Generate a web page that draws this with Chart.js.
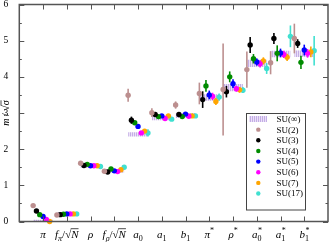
<!DOCTYPE html>
<html><head><meta charset="utf-8">
<script src="https://cdn.jsdelivr.net/npm/chart.js@4.4.1/dist/chart.umd.min.js"></script>
<style>html,body{margin:0;padding:0;background:#fff;}</style>
</head><body>
<canvas id="c" width="332" height="242"></canvas>
<script>
const categories = ['π','fπ/√N','ρ','fρ/√N','a0','a1','b1','π*','ρ*','a0*','a1*','b1*'];
const seriesLabels = ['SU(2)','SU(3)','SU(4)','SU(5)','SU(6)','SU(7)','SU(17)'];
const bandLabel = 'SU(∞)';
const su2  = [0.44,0.18,1.61,1.39,3.49,3.01,3.22,3.54,3.65,4.20,4.39,5.06];
const su2Err  = [0.02,0.01,0.02,0.02,0.18,0.12,0.10,0.30,1.27,0.50,0.32,0.41];
const su3  = [0.29,0.19,1.55,1.37,2.80,2.96,2.96,3.37,3.59,4.88,5.06,4.92];
const su3Err  = [0.01,0.01,0.02,0.02,0.10,0.05,0.05,0.23,0.16,0.22,0.15,0.12];
const su4  = [0.19,0.20,1.58,1.45,2.73,2.90,2.90,3.75,4.00,4.50,4.65,4.40];
const su4Err  = [0.01,0.01,0.02,0.02,0.05,0.04,0.04,0.16,0.15,0.13,0.22,0.18];
const su5  = [0.14,0.21,1.54,1.40,2.63,2.92,2.97,3.50,3.81,4.41,4.66,4.74];
const su5Err  = [0.01,0.01,0.02,0.02,0.06,0.04,0.05,0.12,0.12,0.10,0.12,0.15];
const su6  = [0.06,0.21,1.54,1.38,2.45,2.85,2.91,3.46,3.67,4.36,4.62,4.65];
const su6Err  = [0.01,0.01,0.02,0.02,0.04,0.04,0.04,0.10,0.08,0.10,0.10,0.12];
const su7  = [0.00,0.21,1.54,1.43,2.50,2.92,2.92,3.32,3.64,4.44,4.54,4.69];
const su7Err  = [0.01,0.01,0.02,0.02,0.05,0.04,0.04,0.10,0.08,0.10,0.10,0.15];
const su17 = [null,0.21,1.52,1.50,2.45,2.83,2.92,3.44,3.63,4.23,5.12,4.72];
const su17Err = [null,0.01,0.02,0.02,0.10,0.05,0.05,0.10,0.08,0.15,0.30,0.41];
const suInf    = [0.00,0.21,1.53,1.40,2.41,2.87,2.93,3.43,3.70,4.37,4.63,4.64];
const suInfErr = [0.04,0.04,0.04,0.04,0.05,0.06,0.06,0.08,0.09,0.09,0.08,0.08];
const yTicks = [0,1,2,3,4,5,6];

const seriesValues = [su2,su3,su4,su5,su6,su7,su17];
const seriesErrors = [su2Err,su3Err,su4Err,su5Err,su6Err,su7Err,su17Err];
const seriesColors = ['#bc8f8f','#000000','#008b00','#0000ff','#ff00ff','#ffa500','#40e0d0'];

const FAM = "'Liberation Serif','DejaVu Serif',serif";
function partsFor(cat){
  const m = {
    'π':[{t:'π',it:1}],
    'fπ/√N':[{t:'f',it:1},{t:'π',it:1,pos:'sub'},{t:'/'},{t:'√'},{t:'N',it:1,ov:1}],
    'ρ':[{t:'ρ',it:1}],
    'fρ/√N':[{t:'f',it:1},{t:'ρ',it:1,pos:'sub'},{t:'/'},{t:'√'},{t:'N',it:1,ov:1}],
    'a0':[{t:'a',it:1},{t:'0',pos:'sub'}],
    'a1':[{t:'a',it:1},{t:'1',pos:'sub'}],
    'b1':[{t:'b',it:1},{t:'1',pos:'sub'}],
    'π*':[{t:'π',it:1},{t:'*',pos:'sup'}],
    'ρ*':[{t:'ρ',it:1},{t:'*',pos:'sup'}],
    'a0*':[{t:'a',it:1},{t:'0',pos:'sub',stack:'*'}],
    'a1*':[{t:'a',it:1},{t:'1',pos:'sub',stack:'*'}],
    'b1*':[{t:'b',it:1},{t:'1',pos:'sub',stack:'*'}]
  };
  return m[cat];
}
function segFont(s,size){ return (s.it?'italic ':'') + (s.pos? Math.round(size*0.7) : size) + 'px ' + FAM; }
function drawParts(ctx, parts, cx, base, size){
  const widths = parts.map(s=>{ ctx.font=segFont(s,size); let w=ctx.measureText(s.t).width; if(s.stack) w=Math.max(w,ctx.measureText(s.stack).width); return w; });
  const total = widths.reduce((a,b)=>a+b,0);
  let x = cx - total/2;
  ctx.textAlign='left'; ctx.textBaseline='alphabetic';
  parts.forEach((s,i)=>{
    ctx.font = segFont(s,size);
    const y = base + (s.pos==='sub' ? size*0.3 : s.pos==='sup' ? -size*0.42 : 0);
    ctx.fillText(s.t, x, y);
    if(s.stack) ctx.fillText(s.stack, x+0.5, base - size*0.45);
    if(s.ov){ ctx.beginPath(); ctx.lineWidth=0.7; ctx.moveTo(x-0.5, base-size*0.8); ctx.lineTo(x+widths[i], base-size*0.8); ctx.stroke(); }
    x += widths[i];
  });
}

const pc = document.createElement('canvas'); pc.width=2; pc.height=2;
const pctx = pc.getContext('2d');
pctx.fillStyle='#ebe2f7'; pctx.fillRect(0,0,2,2);
pctx.fillStyle='#c4ade6'; pctx.fillRect(0,0,1,2);
const hatch = pctx.createPattern(pc,'repeat');

const offsetStep = 0.139;
const datasets = [];
datasets.push({
  type:'bar', label: bandLabel, order: 1,
  data: suInf.map((v,i)=>({x:i+1, y:[v-suInfErr[i], v+suInfErr[i]]})),
  backgroundColor: hatch, borderWidth:0, barThickness:19
});
seriesValues.forEach((vals,k)=>{
  datasets.push({
    type:'scatter', label: seriesLabels[k], order: 0,
    data: vals.map((v,i)=>({x: i+1 + (k-3)*offsetStep, y: v})),
    errors: seriesErrors[k],
    backgroundColor: seriesColors[k], borderColor: seriesColors[k],
    pointRadius: 2.7, pointBorderWidth: 0, clip: false
  });
});

const deco = {
  id:'deco',
  beforeDatasetDraw(chart, args){
    const ds = chart.data.datasets[args.index];
    if(!ds.errors) return;
    const xs = chart.scales.x, ys = chart.scales.y, ctx = chart.ctx;
    ctx.save(); ctx.strokeStyle = ds.borderColor; ctx.lineWidth = 1.6;
    ds.data.forEach((p,i)=>{
      const e = ds.errors[i];
      if(p.y==null || e==null) return;
      const px = xs.getPixelForValue(p.x);
      ctx.beginPath();
      ctx.moveTo(px, ys.getPixelForValue(p.y-e));
      ctx.lineTo(px, ys.getPixelForValue(p.y+e));
      ctx.stroke();
    });
    ctx.restore();
  },
  afterDraw(chart){
    const ctx = chart.ctx, ca = chart.chartArea, xs = chart.scales.x, ys = chart.scales.y;
    ctx.save();
    ctx.strokeStyle='#555'; ctx.lineWidth=1.5;
    ctx.strokeRect(ca.left, ca.top, ca.right-ca.left, ca.bottom-ca.top);
    ctx.lineWidth=1;
    ctx.beginPath();
    for(let v=0; v<=6.001; v+=0.5){
      const py = Math.round(ys.getPixelForValue(v))+0.5;
      const L = (Math.abs(v-Math.round(v))<1e-6) ? 5 : 2.5;
      ctx.moveTo(ca.left, py); ctx.lineTo(ca.left+L, py);
      ctx.moveTo(ca.right, py); ctx.lineTo(ca.right-L, py);
    }
    categories.forEach((c,i)=>{
      const px = Math.round(xs.getPixelForValue(i+1))+0.5;
      ctx.moveTo(px, ca.bottom); ctx.lineTo(px, ca.bottom-5);
      ctx.moveTo(px, ca.top); ctx.lineTo(px, ca.top+5);
    });
    ctx.stroke();
    ctx.fillStyle='#000'; ctx.strokeStyle='#000';
    categories.forEach((c,i)=>{
      drawParts(ctx, partsFor(c), xs.getPixelForValue(i+1), 237.5, 11);
    });
    ctx.save();
    ctx.translate(9, (ca.top+ca.bottom)/2);
    ctx.rotate(-Math.PI/2);
    drawParts(ctx, [{t:'m',it:1},{t:' / '},{t:'√'},{t:'σ',it:1,ov:1}], 0, 0, 10);
    ctx.restore();
    const lx=246.5, ly=113.5, lw=59, lh=96.5;
    ctx.fillStyle='#fff'; ctx.fillRect(lx,ly,lw,lh);
    ctx.strokeStyle='#444'; ctx.lineWidth=1; ctx.strokeRect(lx,ly,lw,lh);
    const rowY = i => 119 + 10.65*i;
    ctx.fillStyle = hatch; ctx.fillRect(249, rowY(0)-3, 18, 6);
    ctx.font = '9px ' + FAM; ctx.textAlign='left'; ctx.textBaseline='middle';
    ctx.fillStyle='#000'; ctx.fillText(bandLabel, 276.5, rowY(0)+0.5);
    seriesLabels.forEach((lab,k)=>{
      const y = rowY(k+1);
      ctx.fillStyle = seriesColors[k];
      ctx.beginPath(); ctx.arc(258.3, y, 2.2, 0, Math.PI*2); ctx.fill();
      ctx.fillStyle='#000'; ctx.fillText(lab, 276.5, y+0.5);
    });
    ctx.restore();
  }
};

new Chart(document.getElementById('c'), {
  type:'scatter',
  data:{ datasets },
  options:{
    responsive:false, animation:false, devicePixelRatio:1,
    layout:{ padding:{ top:4.5, right:1, left:0, bottom:0 } },
    plugins:{ legend:{display:false}, tooltip:{enabled:false} },
    scales:{
      x:{ type:'linear', min:0, max:13, offset:false, grid:{display:false, offset:false}, border:{display:false},
          ticks:{display:false}, afterFit(s){ s.height=20.5; s.paddingLeft=0; s.paddingRight=0; } },
      y:{ type:'linear', min:0, max:6, grid:{display:false}, border:{display:false},
          afterBuildTicks(s){ s.ticks = yTicks.map(v=>({value:v})); },
          ticks:{ padding:3, color:'#000', font:{family:FAM, size:9.5} },
          afterFit(s){ s.width=19.3; s.paddingTop=0; s.paddingBottom=0; } }
    }
  },
  plugins:[deco]
});
</script>
</body></html>
